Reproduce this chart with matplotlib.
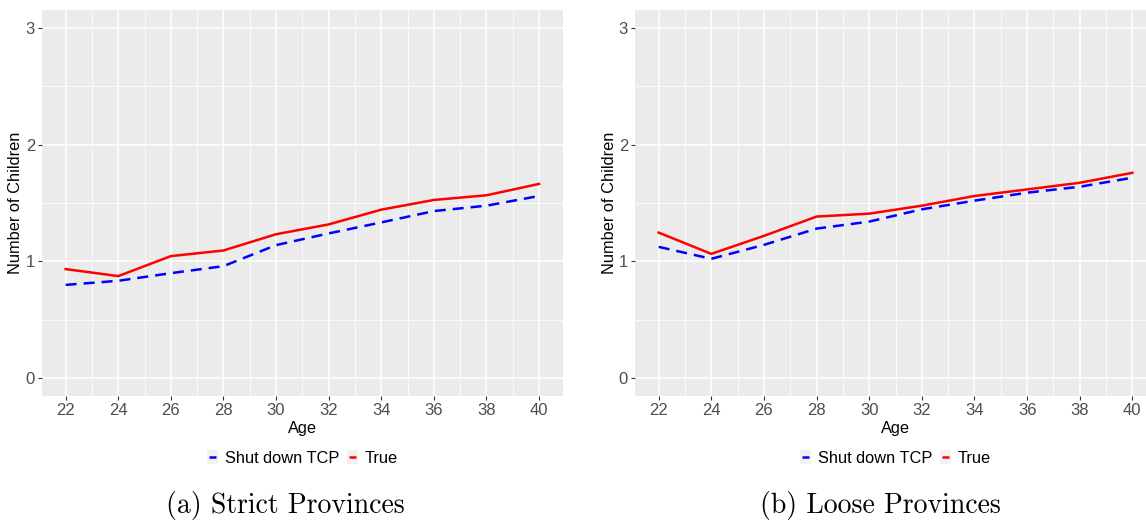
import matplotlib
matplotlib.use("Agg")
import matplotlib.pyplot as plt
from matplotlib.lines import Line2D
from matplotlib.patches import Rectangle
from matplotlib.legend_handler import HandlerBase

ages = [22, 24, 26, 28, 30, 32, 34, 36, 38, 40]
strict_true = [0.935, 0.875, 1.046, 1.094, 1.233, 1.317, 1.443, 1.526, 1.566, 1.663]
strict_tcp = [0.800, 0.835, 0.900, 0.960, 1.140, 1.240, 1.334, 1.431, 1.477, 1.560]
loose_true = [1.247, 1.065, 1.219, 1.384, 1.409, 1.477, 1.560, 1.616, 1.673, 1.758]
loose_tcp = [1.125, 1.023, 1.142, 1.281, 1.341, 1.446, 1.520, 1.588, 1.639, 1.716]
yticks = [0, 1, 2, 3]
captions = ["(a) Strict Provinces", "(b) Loose Provinces"]
series_labels = ["Shut down TCP", "True"]

plt.rcParams['font.family'] = ['Liberation Sans', 'DejaVu Sans']

W, H = 1146, 520
fig = plt.figure(figsize=(W / 100, H / 100), dpi=100)

panels = [
    (42, 562.7, strict_tcp, strict_true, 285, 16),
    (635, 1156, loose_tcp, loose_true, 880, 609),
]
top_px, bot_px = 10, 396
DASH = (4.4, 2.8)


class KeyHandler(HandlerBase):
    def create_artists(self, legend, orig_handle, xdescent, ydescent, width, height, fontsize, trans):
        rect = Rectangle((-xdescent, -ydescent), width, height, fc='#F2F2F2', ec='none', transform=trans)
        cy = -ydescent + height / 2
        pad = width * 0.15
        ln = Line2D([-xdescent + pad, -xdescent + width - pad], [cy, cy],
                    color=orig_handle.get_color(), lw=orig_handle.get_linewidth(),
                    solid_capstyle='butt', transform=trans)
        return [rect, ln]


for i, (lpx, rpx, tcp, tru, cap_x, ylab_px) in enumerate(panels):
    ax = fig.add_axes([lpx / W, 1 - bot_px / H, (rpx - lpx) / W, (bot_px - top_px) / H])
    ax.set_facecolor('#EBEBEB')
    for s in ax.spines.values():
        s.set_visible(False)
    ax.set_xlim(21.1, 40.9)
    ax.set_ylim(-0.15, 3.15)
    ax.set_xticks(ages)
    ax.set_xticks([a + 1 for a in ages[:-1]], minor=True)
    ax.set_yticks(yticks)
    ax.set_yticks([0.5, 1.5, 2.5], minor=True)
    ax.grid(which='major', color='white', lw=1.1)
    ax.grid(which='minor', color='white', lw=0.55)
    ax.set_axisbelow(True)
    ax.tick_params(which='major', length=3, width=0.8, color='#333333',
                   labelcolor='#4D4D4D', labelsize=12, pad=2)
    ax.tick_params(which='minor', length=0)
    l1, = ax.plot(ages, tcp, color='blue', lw=1.8, ls=(0, DASH))
    l2, = ax.plot(ages, tru, color='red', lw=1.8)
    ax.set_xlabel('Age', fontsize=11.8, color='black', labelpad=2)
    ax.set_ylabel('Number of Children', fontsize=11.8, color='black', va='center')
    ax.yaxis.set_label_coords((ylab_px - lpx) / (rpx - lpx), 0.5)

    cx = (lpx + rpx) / 2 / W
    fig.legend([l1, l2], series_labels, loc='center', bbox_to_anchor=(cx, 1 - 458 / H),
               ncol=2, frameon=False, fontsize=11.8, handlelength=0.65, handleheight=0.9,
               handletextpad=0.4, columnspacing=0.5,
               handler_map={Line2D: KeyHandler()})
    fig.text(cap_x / W, 1 - 505 / H, captions[i], family='cmr10', fontsize=20,
             ha='center', va='center')

fig.savefig('out.png', dpi=100)
